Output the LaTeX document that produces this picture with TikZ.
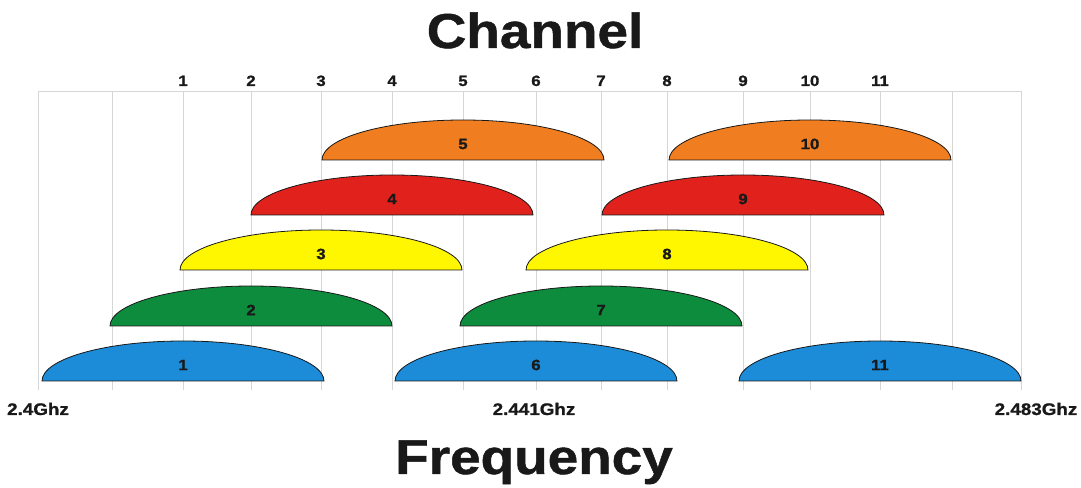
\documentclass[tikz,border=0pt]{standalone}
\usepackage{fontspec}
\setmainfont{Liberation Sans}
\newfontfamily\heavyfont[FakeStretch=1.12,FakeBold=1]{Liberation Sans Bold}
\usepackage{tikz}
\definecolor{inkdark}{rgb}{0.10,0.10,0.10}
\definecolor{gridgray}{rgb}{0.84,0.84,0.84}
\definecolor{lobeblue}{rgb}{0.11,0.55,0.85}
\definecolor{lobegreen}{rgb}{0.05,0.55,0.24}
\definecolor{lobeyellow}{rgb}{1.0,0.97,0.0}
\definecolor{lobered}{rgb}{0.88,0.13,0.11}
\definecolor{lobeorange}{rgb}{0.94,0.49,0.12}

\begin{document}
\begin{tikzpicture}[
  x=1pt, y=1pt,
  title/.style={
    anchor=base, inner sep=0pt, text=inkdark,
    font=\heavyfont\fontsize{49}{55}\selectfont
  },
  chnum/.style={
    anchor=base, inner sep=0pt, text=inkdark,
    font=\heavyfont\fontsize{15}{17}\selectfont
  },
  lobenum/.style={
    anchor=center, inner sep=0pt, text=inkdark,
    font=\heavyfont\fontsize{15}{17}\selectfont
  },
  freq/.style={
    anchor=base, inner sep=0pt, text=inkdark,
    font=\heavyfont\fontsize{16.8}{19}\selectfont
  },
  grid line/.style={gridgray, line width=0.9pt},
  lobe/.style={draw=inkdark, line width=0.8pt},
]
\useasboundingbox (0,0) rectangle (1081,487);

%% ---- Grid (top edge at y = 396) ----
\draw[grid line] (38,396) -- (1021,396);
\foreach \gx in {38,112,183,251,321,392,463,536,601,667,743,810,880,952,1021}{
  \draw[grid line] (\gx,396) -- (\gx,97);
}

%% ---- Channel numbers on top ----
\foreach \k/\gx in {1/183, 2/251, 3/321, 4/392, 5/463, 6/536,
                    7/601, 8/667, 9/743, 10/810, 11/880}{
  \node[chnum] (top\k) at (\gx,401) {\k};
}

%% ---- Lobes: channel/centre/base/colour ----
\foreach \k/\cx/\by/\col in {1/183/106/lobeblue, 6/536/106/lobeblue,
    11/880/106/lobeblue, 2/251/161/lobegreen, 7/601/161/lobegreen,
    3/321/217/lobeyellow, 8/667/217/lobeyellow,
    4/392/272/lobered, 9/743/272/lobered,
    5/463/327/lobeorange, 10/810/327/lobeorange}{
  \filldraw[lobe, fill=\col] (\cx-141,\by)
    arc[start angle=180, end angle=0, x radius=141, y radius=40] -- cycle;
  \node[lobenum] (lab\k) at (\cx,\by+16) {\k};
}

%% ---- Frequency marks ----
\node[freq] (f0)   at (38,72)   {2.4Ghz};
\node[freq] (fmid) at (534,72)  {2.441Ghz};
\node[freq] (fend) at (1036,72) {2.483Ghz};

%% ---- Titles ----
\node[title] (chtitle) at (535,439) {Channel};
\node[title] (frtitle) at (534,13)  {Frequency};

\end{tikzpicture}
\end{document}
